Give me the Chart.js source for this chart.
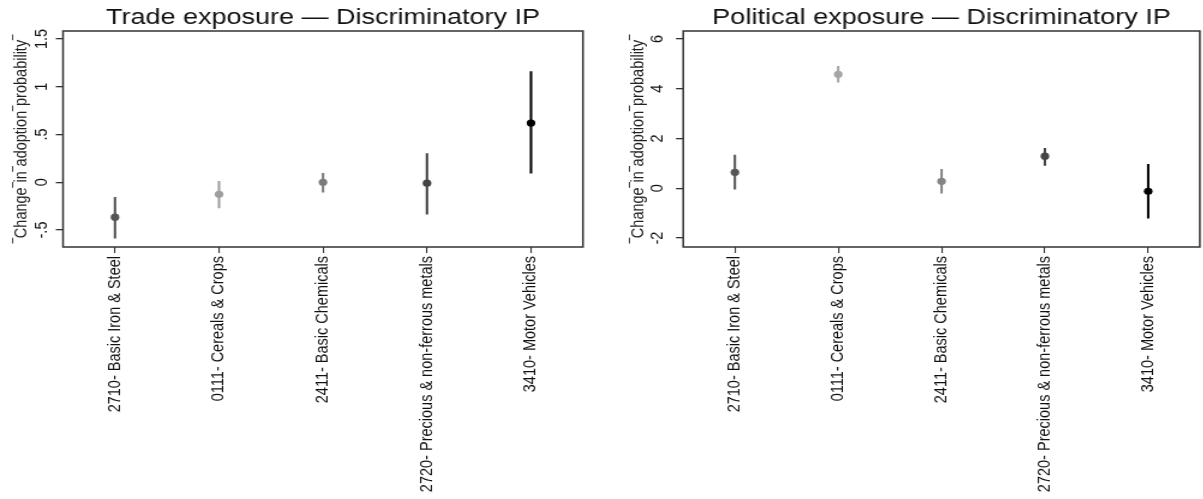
<!DOCTYPE html>
<html>
<head>
<meta charset="utf-8">
<title>Discriminatory IP - exposure</title>
<script src="https://cdn.jsdelivr.net/npm/chart.js@4.4.1/dist/chart.umd.min.js"></script>
<style>
  body { margin: 0; background: #ffffff; overflow: hidden; }
  /* the original figure is drawn about 1.2x wider than tall, so each panel is stretched */
  .panel { position: absolute; top: 0; height: 499px; transform: scaleX(1.2); transform-origin: 0 0; }
  #leftBox  { left: 0;     width: 500px; }
  #rightBox { left: 600px; width: 502.5px; }
</style>
</head>
<body>
<div class="panel" id="leftBox"><canvas id="tradeChart"></canvas></div>
<div class="panel" id="rightBox"><canvas id="politicalChart"></canvas></div>

<script>
// ***** data *****
const sectors = ['2710- Basic Iron & Steel', '0111- Cereals & Crops', '2411- Basic Chemicals',
                 '2720- Precious & non-ferrous metals', '3410- Motor Vehicles'];

// trade exposure panel (point estimate + 95% interval)
const tradeMean = [-0.366, -0.126, 0.0, -0.01, 0.62];
const tradeLow  = [-0.586, -0.27, -0.105, -0.335, 0.094];
const tradeHigh = [-0.157, 0.01, 0.094, 0.30, 1.16];
const tradeTicks = [-0.5, 0, 0.5, 1, 1.5];

// political exposure panel
const polMean = [0.64, 4.58, 0.28, 1.29, -0.12];
const polLow  = [-0.04, 4.26, -0.2, 0.92, -1.2];
const polHigh = [1.33, 4.9, 0.76, 1.61, 0.96];
const polTicks = [-2, 0, 2, 4, 6];

// grey shade of each marker (like the original)
const tradeShades = ['#555555', '#9e9e9e', '#7a7a7a', '#444444', '#000000'];
const polShades   = ['#555555', '#a6a6a6', '#858585', '#444444', '#000000'];

const yTitle = '\u203EChange\u203Ein\u203Eadoption\u203Eprobability\u203E';
const fontName = '"Liberation Sans", Arial, sans-serif';

// turns [low] and [high] into floating bar pairs
function makeRanges(low, high) {
  let out = [];
  for (let i = 0; i < low.length; i++) {
    out.push([low[i], high[i]]);
  }
  return out;
}

// stata style labels: .5 instead of 0.5
function stataLabel(value) {
  let s = String(value);
  s = s.replace('0.', '.');
  return s;
}

// box around the plot region + title on top
const framePlugin = {
  id: 'frame',
  beforeDatasetsDraw(chart) {
    const a = chart.chartArea;
    const ctx = chart.ctx;
    ctx.save();
    ctx.strokeStyle = '#333333';
    ctx.lineWidth = 1.5;
    ctx.strokeRect(a.left, a.top, a.right - a.left, a.bottom - a.top);
    ctx.restore();
  },
  afterDraw(chart) {
    const a = chart.chartArea;
    const ctx = chart.ctx;
    ctx.save();
    ctx.font = '22.5px ' + fontName;
    ctx.fillStyle = '#111111';
    ctx.textAlign = 'center';
    ctx.textBaseline = 'alphabetic';
    ctx.fillText(chart.options.plugins.frame.text, (a.left + a.right) / 2, 24);
    ctx.restore();
  }
};

function buildPanel(canvasId, title, mean, low, high, shades, tickList, yMin, yMax, axisWidth, rightPad, tickPad, titlePad) {
  const ctx = document.getElementById(canvasId).getContext('2d');
  return new Chart(ctx, {
    type: 'bar',
    data: {
      labels: sectors,
      datasets: [
        {
          type: 'line',
          data: mean,
          showLine: false,
          pointRadius: 3.6,
          pointHoverRadius: 3.6,
          pointBorderWidth: 0,
          pointBackgroundColor: shades,
          order: 0
        },
        {
          type: 'bar',
          data: makeRanges(low, high),
          backgroundColor: shades,
          borderWidth: 0,
          barThickness: 1.4,
          order: 1
        }
      ]
    },
    options: {
      responsive: true,
      maintainAspectRatio: false,
      animation: false,
      layout: { padding: { top: 31, right: rightPad, bottom: 0, left: 0 } },
      plugins: {
        legend: { display: false },
        tooltip: { enabled: false },
        frame: { text: title }
      },
      scales: {
        x: {
          offset: true,
          grid: { offset: false, drawOnChartArea: false, drawTicks: true, tickLength: 6, color: '#333333', lineWidth: 1.1 },
          border: { display: false },
          ticks: {
            autoSkip: false, maxRotation: 90, minRotation: 90, padding: 3,
            color: '#111111', font: { family: fontName, size: 14.5 }
          },
          afterFit: function (scale) { scale.height = 252; }
        },
        y: {
          min: yMin,
          max: yMax,
          grid: { drawOnChartArea: false, drawTicks: true, tickLength: 6, color: '#333333', lineWidth: 1.3 },
          border: { display: false },
          ticks: {
            minRotation: 90, maxRotation: 90, crossAlign: 'center', padding: tickPad,
            color: '#111111', font: { family: fontName, size: 14.5 },
            callback: function (v) { return stataLabel(v); }
          },
          afterBuildTicks: function (scale) {
            scale.ticks = tickList.map(function (v) { return { value: v }; });
          },
          title: {
            display: true, text: yTitle, color: '#222222',
            font: { family: fontName, size: 14.5 }, padding: { top: titlePad, bottom: 0 }
          },
          afterFit: function (scale) { scale.width = axisWidth; }
        }
      }
    },
    plugins: [framePlugin]
  });
}

buildPanel('tradeChart', 'Trade exposure \u2014 Discriminatory IP',
           tradeMean, tradeLow, tradeHigh, tradeShades, tradeTicks, -0.678, 1.584, 52.5, 14.2, 1.4, 8.8);

buildPanel('politicalChart', 'Political exposure \u2014 Discriminatory IP',
           polMean, polLow, polHigh, polShades, polTicks, -2.36, 6.32, 69.2, 2.5, 8.5, 23);
</script>
</body>
</html>
